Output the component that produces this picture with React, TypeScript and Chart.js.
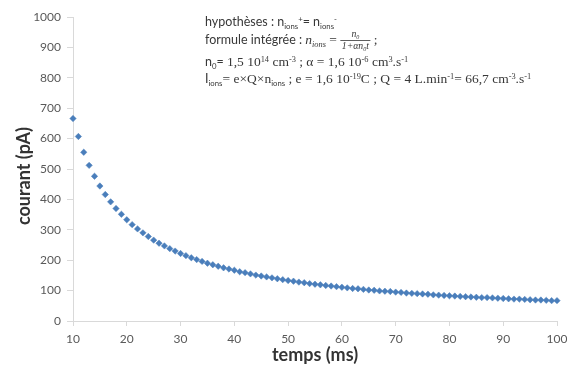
import { useEffect, useRef } from 'react';
import { Chart, registerables } from 'chart.js';

Chart.register(...registerables);

const TIME_MS = [
  10, 11, 12, 13, 14, 15, 16, 17, 18, 19,
  20, 21, 22, 23, 24, 25, 26, 27, 28, 29,
  30, 31, 32, 33, 34, 35, 36, 37, 38, 39,
  40, 41, 42, 43, 44, 45, 46, 47, 48, 49,
  50, 51, 52, 53, 54, 55, 56, 57, 58, 59,
  60, 61, 62, 63, 64, 65, 66, 67, 68, 69,
  70, 71, 72, 73, 74, 75, 76, 77, 78, 79,
  80, 81, 82, 83, 84, 85, 86, 87, 88, 89,
  90, 91, 92, 93, 94, 95, 96, 97, 98, 99,
  100,
];

const CURRENT_PA = [
  666, 607, 555, 512, 476, 444, 416, 392, 370, 351,
  333, 317, 303, 290, 278, 266, 256, 247, 238, 230,
  222, 215, 208, 202, 196, 190, 185, 180, 175, 171,
  167, 162, 159, 155, 151, 148, 145, 142, 139, 136,
  133, 131, 128, 126, 123, 121, 119, 117, 115, 113,
  111, 109, 107, 106, 104, 102, 101, 99, 98, 97,
  95, 94, 92, 91, 90, 89, 88, 86, 85, 84,
  83, 82, 81, 80, 79, 78, 77, 77, 76, 75,
  74, 73, 72, 72, 71, 70, 69, 69, 68, 67,
  67,
];

const X_TICKS = [10, 20, 30, 40, 50, 60, 70, 80, 90, 100];
const Y_TICKS = [0, 100, 200, 300, 400, 500, 600, 700, 800, 900, 1000];

const X_TITLE = 'temps (ms)';
const Y_TITLE = 'courant (pA)';

type Seg = {
  t?: string;
  k?: 'sub' | 'sup';
  f?: 'serif';
  i?: boolean;
  sz?: number;
  num?: Seg[];
  den?: Seg[];
};

const NOTE_LINE_1: Seg[] = [
  { t: 'hypothèses : n' }, { t: 'ions', k: 'sub' }, { t: '+', k: 'sup' },
  { t: '= n' }, { t: 'ions', k: 'sub' }, { t: '-', k: 'sup' },
];
const NOTE_LINE_2: Seg[] = [
  { t: 'formule intégrée : ' },
  { t: 'n', f: 'serif', i: true }, { t: 'ions', f: 'serif', i: true, k: 'sub' },
  { t: ' = ', f: 'serif' },
  {
    num: [{ t: 'n', f: 'serif', i: true, sz: 0.72 }, { t: '0', f: 'serif', i: true, k: 'sub', sz: 0.72 }],
    den: [{ t: '1+αn', f: 'serif', i: true, sz: 0.72 }, { t: '0', f: 'serif', i: true, k: 'sub', sz: 0.72 }, { t: 't', f: 'serif', i: true, sz: 0.72 }],
  },
  { t: ' ;', f: 'serif' },
];
const NOTE_LINE_3: Seg[] = [
  { t: 'n' }, { t: '0', k: 'sub' }, { t: '= ' },
  { t: '1,5 10', f: 'serif' }, { t: '14', f: 'serif', k: 'sup' },
  { t: ' cm', f: 'serif' }, { t: '-3', f: 'serif', k: 'sup' },
  { t: ' ; α = 1,6 10', f: 'serif' }, { t: '-6', f: 'serif', k: 'sup' },
  { t: ' cm', f: 'serif' }, { t: '3', f: 'serif', k: 'sup' },
  { t: '.s', f: 'serif' }, { t: '-1', f: 'serif', k: 'sup' },
];
const NOTE_LINE_4: Seg[] = [
  { t: 'I' }, { t: 'ions', k: 'sub' },
  { t: '= e×Q×n', f: 'serif' }, { t: 'ions', k: 'sub' },
  { t: ' ; e = 1,6 10', f: 'serif' }, { t: '-19', f: 'serif', k: 'sup' },
  { t: 'C ; Q = 4 L.min', f: 'serif' }, { t: '-1', f: 'serif', k: 'sup' },
  { t: '= 66,7 cm', f: 'serif' }, { t: '-3', f: 'serif', k: 'sup' },
  { t: '.s', f: 'serif' }, { t: '-1', f: 'serif', k: 'sup' },
];
const NOTE_LINES = [NOTE_LINE_1, NOTE_LINE_2, NOTE_LINE_3, NOTE_LINE_4];

const NOTE_X = 205;
const NOTE_BASELINES = [26, 44, 66, 83];
const NOTE_SIZE = 12.5;
const SERIF_FACTOR = 1.08;

const SANS = 'Lato, "Open Sans", sans-serif';
const SERIF = '"Liberation Serif", "DejaVu Serif", serif';

function fontOf(s: Seg) {
  let size = NOTE_SIZE * (s.sz ?? 1);
  if (s.f === 'serif') size *= SERIF_FACTOR;
  if (s.k) size *= 0.62;
  const fam = s.f === 'serif' ? SERIF : SANS;
  return `${s.i ? 'italic ' : ''}${size}px ${fam}`;
}

function measureSegs(ctx: CanvasRenderingContext2D, segs: Seg[]) {
  let w = 0;
  for (const s of segs) {
    ctx.font = fontOf(s);
    w += ctx.measureText(s.t || '').width;
  }
  return w;
}

function drawSeg(ctx: CanvasRenderingContext2D, s: Seg, x: number, y: number): number {
  if (s.num && s.den) {
    const nw = measureSegs(ctx, s.num);
    const dw = measureSegs(ctx, s.den);
    const w = Math.max(nw, dw) + 3;
    ctx.fillRect(x, y - 4, w, 0.8);
    let nx = x + (w - nw) / 2;
    for (const q of s.num) nx = drawSeg(ctx, q, nx, y - 7.5);
    let dx = x + (w - dw) / 2;
    for (const q of s.den) dx = drawSeg(ctx, q, dx, y + 5);
    return x + w;
  }
  ctx.font = fontOf(s);
  const scale = s.sz ?? 1;
  const dy = s.k === 'sub' ? 3 * scale : s.k === 'sup' ? -4.5 * scale : 0;
  ctx.fillText(s.t || '', x, y + dy);
  return x + ctx.measureText(s.t || '').width;
}

const notePlugin = {
  id: 'notePlugin',
  afterDraw(chart: any) {
    const ctx: CanvasRenderingContext2D = chart.ctx;
    ctx.save();
    ctx.fillStyle = '#383838';
    ctx.textBaseline = 'alphabetic';
    ctx.textAlign = 'left';
    NOTE_LINES.forEach((line, idx) => {
      let x = NOTE_X;
      const y = NOTE_BASELINES[idx];
      for (const seg of line) x = drawSeg(ctx, seg, x, y);
    });

    // axis titles
    ctx.fillStyle = '#333333';
    ctx.font = `bold 18px ${SANS}`;
    ctx.textAlign = 'center';
    ctx.textBaseline = 'middle';
    ctx.fillText(X_TITLE, 315, 355);
    ctx.translate(24, 176);
    ctx.rotate(-Math.PI / 2);
    ctx.fillText(Y_TITLE, 0, 0);
    ctx.restore();
  },
};

export default function App() {
  const ref = useRef<HTMLCanvasElement | null>(null);

  useEffect(() => {
    document.body.style.margin = '0';
    const canvas = ref.current;
    if (!canvas) return;
    const points = TIME_MS.map((t, i) => ({ x: t, y: CURRENT_PA[i] }));
    const tickFont = { family: SANS, size: 12 };
    const axisColor = '#d9d9d9';
    const chart = new Chart(canvas, {
      type: 'scatter',
      data: {
        datasets: [
          {
            data: points,
            pointStyle: 'rectRot',
            pointRadius: 3.2,
            pointBackgroundColor: '#4a7ebb',
            pointBorderColor: '#4a7ebb',
            pointBorderWidth: 0.5,
            showLine: false,
            clip: false as any,
          },
        ],
      },
      options: {
        responsive: false,
        animation: false,
        events: [],
        layout: { padding: { left: 0, right: 10, top: 17, bottom: 0 } },
        plugins: {
          legend: { display: false },
          tooltip: { enabled: false },
        },
        scales: {
          x: {
            type: 'linear',
            min: 10,
            max: 100,
            afterBuildTicks: (s: any) => {
              s.ticks = X_TICKS.map((v) => ({ value: v }));
            },
            afterFit: (s: any) => {
              s.height = 56;
              s.paddingLeft = 0;
              s.paddingRight = 0;
            },
            grid: {
              display: true,
              drawOnChartArea: false,
              drawTicks: true,
              tickLength: 5,
              color: axisColor,
            },
            border: { display: true, color: axisColor },
            ticks: {
              font: tickFont,
              color: '#595959',
              padding: 6,
              maxRotation: 0,
              autoSkip: false,
              callback: (v: any) => String(v),
            },
          },
          y: {
            type: 'linear',
            min: 0,
            max: 1000,
            afterBuildTicks: (s: any) => {
              s.ticks = Y_TICKS.map((v) => ({ value: v }));
            },
            afterFit: (s: any) => {
              s.width = 73;
              s.paddingTop = 0;
              s.paddingBottom = 0;
            },
            grid: {
              display: true,
              drawOnChartArea: false,
              drawTicks: true,
              tickLength: 6,
              color: axisColor,
            },
            border: { display: true, color: axisColor },
            ticks: {
              font: tickFont,
              color: '#595959',
              padding: 6,
              autoSkip: false,
              callback: (v: any) => String(v),
            },
          },
        },
      },
      plugins: [notePlugin],
    });
    return () => chart.destroy();
  }, []);

  return (
    <canvas
      ref={ref}
      width={567}
      height={377}
      style={{ display: 'block', position: 'absolute', left: 0, top: 0 }}
    />
  );
}
